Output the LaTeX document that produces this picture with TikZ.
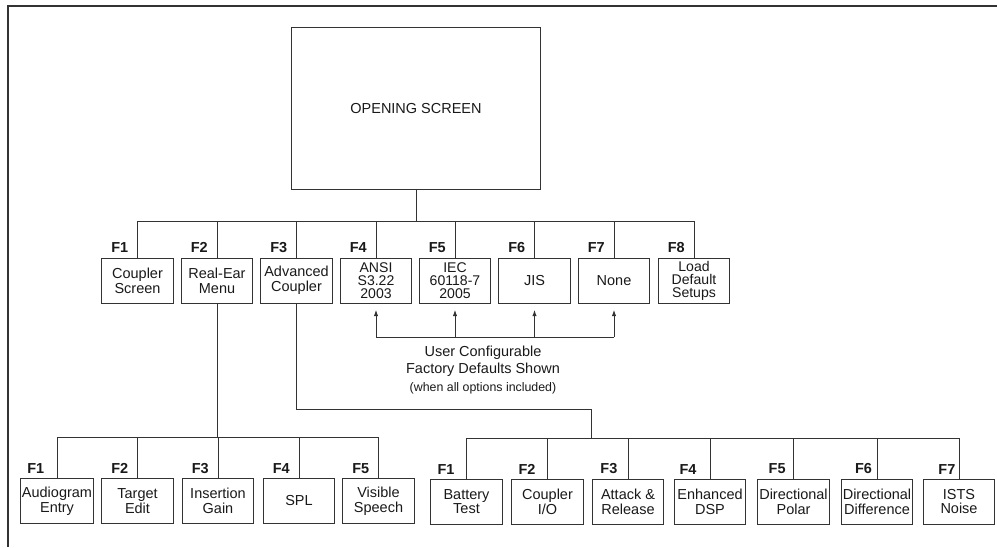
\documentclass[tikz,border=0pt]{standalone}
\usepackage{fontspec}
\setmainfont{Liberation Sans}
\usetikzlibrary{arrows.meta}

\begin{document}
\begin{tikzpicture}[x=0.025cm, y=-0.025cm,
  keybox/.style={draw=black!80, line width=0.7pt, minimum width=1.79cm, minimum height=1.125cm, inner sep=1pt, align=center, text=black!90, font=\fontsize{10.3}{10.5}\selectfont},
  keybox3/.style={keybox, font=\fontsize{10}{9.2}\selectfont},
  fkey/.style={anchor=south west, inner sep=1pt, text=black!90, font=\fontsize{10.3}{12}\selectfont\bfseries},
  wire/.style={draw=black!80, line width=0.7pt},
  upwire/.style={wire, -{Latex[length=4.5pt,width=3.2pt]}, shorten >=4.5pt}]
\useasboundingbox (0,0) rectangle (997,547);
\draw[line width=1.4pt, black!80] (8,547) -- (8,6) -- (997,6);

\node[draw=black!80, line width=0.7pt, minimum width=6.2cm, minimum height=4.025cm, text=black!90, font=\fontsize{10.3}{12}\selectfont] (open) at (416,108.5) {OPENING SCREEN};

\node[keybox] (cs) at (137.5,280.5) {Coupler\\Screen};
\node[keybox] (rem) at (217,280.5) {Real-Ear\\Menu};
\node[keybox] (adv) at (296.5,280.5) {Advanced\\Coupler};
\node[keybox3] (ansi) at (376,280.5) {ANSI\\S3.22\\2003};
\node[keybox3] (iec) at (455,280.5) {IEC\\60118-7\\2005};
\node[keybox] (jis) at (534.5,280.5) {JIS};
\node[keybox] (none) at (614,280.5) {None};
\node[keybox3] (lds) at (694,280.5) {Load\\Default\\Setups};

\node[fkey] (lcs) at ([xshift=6pt,yshift=2.5pt]cs.north west) {F1};
\node[fkey] (lrem) at ([xshift=6pt,yshift=2.5pt]rem.north west) {F2};
\node[fkey] (ladv) at ([xshift=6pt,yshift=2.5pt]adv.north west) {F3};
\node[fkey] (lansi) at ([xshift=6pt,yshift=2.5pt]ansi.north west) {F4};
\node[fkey] (liec) at ([xshift=6pt,yshift=2.5pt]iec.north west) {F5};
\node[fkey] (ljis) at ([xshift=6pt,yshift=2.5pt]jis.north west) {F6};
\node[fkey] (lnone) at ([xshift=6pt,yshift=2.5pt]none.north west) {F7};
\node[fkey] (llds) at ([xshift=6pt,yshift=2.5pt]lds.north west) {F8};

\node[keybox] (ae) at (57,501) {Audiogram\\Entry};
\node[keybox] (te) at (137.5,501) {Target\\Edit};
\node[keybox] (ig) at (218,501) {Insertion\\Gain};
\node[keybox] (spl) at (299,501) {SPL};
\node[keybox] (vsp) at (378.5,501) {Visible\\Speech};

\node[fkey] (lae) at ([xshift=4pt,yshift=2pt]ae.north west) {F1};
\node[fkey] (lte) at ([xshift=6pt,yshift=2pt]te.north west) {F2};
\node[fkey] (lig) at ([xshift=6pt,yshift=2pt]ig.north west) {F3};
\node[fkey] (lspl) at ([xshift=6pt,yshift=2pt]spl.north west) {F4};
\node[fkey] (lvsp) at ([xshift=6pt,yshift=2pt]vsp.north west) {F5};

\node[keybox] (bt) at (466.5,501.5) {Battery\\Test};
\node[keybox] (cio) at (547.5,501.5) {Coupler\\I/O};
\node[keybox] (ar) at (628,501.5) {Attack \&\\Release};
\node[keybox] (eds) at (710,501.5) {Enhanced\\DSP};
\node[keybox] (dpo) at (793.5,501.5) {Directional\\Polar};
\node[keybox] (ddi) at (877,501.5) {Directional\\Difference};
\node[keybox] (isn) at (959,501.5) {ISTS\\Noise};

\node[fkey] (lbt) at ([xshift=4pt,yshift=2pt]bt.north west) {F1};
\node[fkey] (lcio) at ([xshift=4pt,yshift=2pt]cio.north west) {F2};
\node[fkey] (lar) at ([xshift=5pt,yshift=2pt]ar.north west) {F3};
\node[fkey] (leds) at ([xshift=3pt,yshift=2pt]eds.north west) {F4};
\node[fkey] (ldpo) at ([xshift=7pt,yshift=2pt]dpo.north west) {F5};
\node[fkey] (lddi) at ([xshift=9pt,yshift=2pt]ddi.north west) {F6};
\node[fkey] (lisn) at ([xshift=10pt,yshift=2pt]isn.north west) {F7};

\node[align=center, text=black!90, font=\fontsize{10.3}{12.5}\selectfont] (ucfg) at (483,370) {User Configurable\\Factory Defaults Shown\\{\fontsize{8.8}{10}\selectfont(when all options included)}};

\coordinate (topbus) at (416,221);
\coordinate (ubus) at (416,337);
\coordinate (lbus) at (217,437);
\coordinate (bend) at (591,409);
\coordinate (rbus) at (591,438);

\draw[wire] (open.south) -- (topbus);
\draw[wire] (cs.north) |- (lds.north |- topbus) -- (lds.north);
\draw[wire] (rem.north) -- (rem.north |- topbus);
\draw[wire] (adv.north) -- (adv.north |- topbus);
\draw[wire] (ansi.north) -- (ansi.north |- topbus);
\draw[wire] (iec.north) -- (iec.north |- topbus);
\draw[wire] (jis.north) -- (jis.north |- topbus);
\draw[wire] (none.north) -- (none.north |- topbus);

\draw[wire] (ansi.south |- ubus) -- (none.south |- ubus);
\draw[upwire] (ansi.south |- ubus) -- (ansi.south);
\draw[upwire] (iec.south |- ubus) -- (iec.south);
\draw[upwire] (jis.south |- ubus) -- (jis.south);
\draw[upwire] (none.south |- ubus) -- (none.south);

\draw[wire] (rem.south) -- (lbus);
\draw[wire] (ae.north) |- (vsp.north |- lbus) -- (vsp.north);
\draw[wire] (te.north) -- (te.north |- lbus);
\draw[wire] (ig.north) -- (ig.north |- lbus);
\draw[wire] (spl.north) -- (spl.north |- lbus);

\draw[wire] (adv.south) |- (bend) -- (rbus);
\draw[wire] (bt.north) |- (isn.north |- rbus) -- (isn.north);
\draw[wire] (cio.north) -- (cio.north |- rbus);
\draw[wire] (ar.north) -- (ar.north |- rbus);
\draw[wire] (eds.north) -- (eds.north |- rbus);
\draw[wire] (dpo.north) -- (dpo.north |- rbus);
\draw[wire] (ddi.north) -- (ddi.north |- rbus);
\end{tikzpicture}
\end{document}
